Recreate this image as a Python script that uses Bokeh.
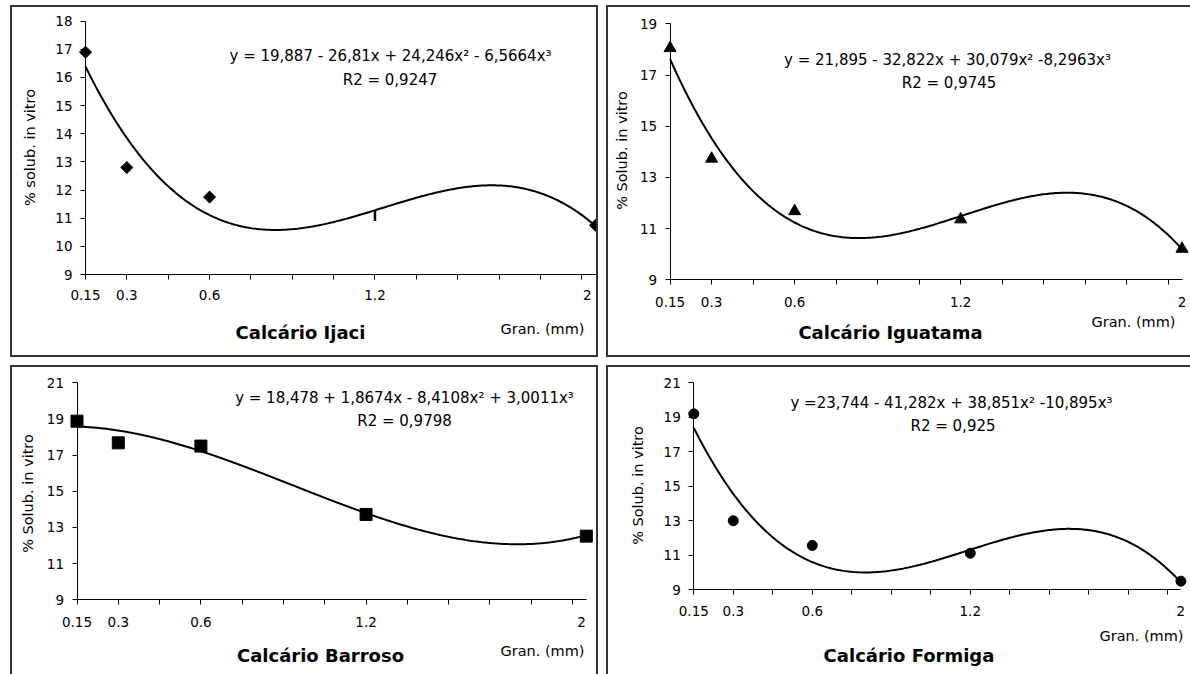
import numpy as np
from bokeh.plotting import figure
from bokeh.models import Range1d, FixedTicker, CustomJSTickFormatter, Label, Spacer, ColumnDataSource
from bokeh.layouts import row, column
from bokeh.embed import file_html
from bokeh.resources import INLINE

# ---------------- data ----------------
granulometry = [0.15, 0.3, 0.6, 1.2, 2.0]

ijaci = [16.9, 12.8, 11.75, 11.1, 10.75]
iguatama = [18.05, 13.73, 11.68, 11.36, 10.21]
barroso = [18.88, 17.68, 17.5, 13.72, 12.52]
formiga = [19.2, 13.0, 11.57, 11.12, 9.5]

coef_ijaci = [19.887, -26.81, 24.246, -6.5664]
coef_iguatama = [21.895, -32.822, 30.079, -8.2963]
coef_barroso = [18.478, 1.8674, -8.4108, 3.0011]
coef_formiga = [23.744, -41.282, 38.851, -10.895]

eq_ijaci = "y = 19,887 - 26,81x + 24,246x² - 6,5664x³"
eq_iguatama = "y = 21,895 - 32,822x + 30,079x² -8,2963x³"
eq_barroso = "y = 18,478 + 1,8674x - 8,4108x² + 3,0011x³"
eq_formiga = "y =23,744 - 41,282x + 38,851x² -10,895x³"

r2_texts = ["R2 = 0,9247", "R2 = 0,9745", "R2 = 0,9798", "R2 = 0,925"]
titles = ["Calcário Ijaci", "Calcário Iguatama", "Calcário Barroso", "Calcário Formiga"]
ylabels = ["% solub. in vitro", "% Solub. in vitro", "% Solub. in vitro", "% Solub. in vitro"]
xlabel = "Gran. (mm)"

x_minor_ticks = [0.15, 0.30, 0.45, 0.60, 0.75, 0.90, 1.05, 1.20, 1.35, 1.50, 1.65, 1.80, 1.95]
x_tick_labels = ["0.15", "0.3", "0.6", "1.2", "2"]

FONT = "DejaVu Sans"
LINE = "#333333"


def build(cfg):
    ox, oy = cfg["origin"]
    W, H = cfg["W"], cfg["H"]
    AX, SX = cfg["ax"], cfg["sx"]
    y0, y1 = cfg["yr"]
    YT, YB = cfg["yt"], cfg["yb"]
    SY = (YB - YT) / (y1 - y0)

    def dx(X):
        return 0.15 + (X - AX) / SX

    def dy(Y):
        return y0 + (YB - Y) / SY

    p = figure(width=W, height=H,
               x_range=Range1d(dx(ox), dx(ox + W)), y_range=Range1d(dy(oy + H), dy(oy)),
               output_backend="svg", toolbar_location=None, title=None,
               min_border=0, min_border_left=0, min_border_right=0, min_border_top=0, min_border_bottom=0,
               background_fill_color="white", border_fill_color="white", outline_line_color=None)
    p.xgrid.grid_line_color = None
    p.ygrid.grid_line_color = None

    xa = p.xaxis[0]
    label_ticks = [0.15, 0.3, 0.6, 1.2, cfg["last_tick"]]
    xa.fixed_location = y0
    xa.bounds = (0.15, cfg["xend"])
    xa.ticker = FixedTicker(ticks=label_ticks, minor_ticks=x_minor_ticks)
    xa.formatter = CustomJSTickFormatter(args=dict(vals=label_ticks, labs=x_tick_labels), code="""
        for (let i = 0; i < vals.length; i++) {
            if (Math.abs(vals[i] - tick) < 1e-6) { return labs[i]; }
        }
        return "";
    """)
    xa.major_tick_out = 0
    xa.major_tick_in = 0
    xa.minor_tick_out = 5
    xa.minor_tick_in = 0
    xa.minor_tick_line_color = "black"
    xa.major_label_standoff = cfg["xstand"]
    xa.axis_line_color = "black"
    xa.major_label_text_font = FONT
    xa.major_label_text_font_size = "13.5px"
    xa.major_label_text_color = "black"

    ya = p.yaxis[0]
    ya.fixed_location = 0.15
    ya.bounds = (y0, y1)
    ya.ticker = FixedTicker(ticks=list(range(y0, y1 + 1, cfg["ystep"])), minor_ticks=[])
    ya.major_tick_out = 5
    ya.major_tick_in = 0
    ya.minor_tick_out = 0
    ya.minor_tick_in = 0
    ya.major_tick_line_color = "black"
    ya.major_label_standoff = 8
    ya.axis_line_color = "black"
    ya.major_label_text_font = FONT
    ya.major_label_text_font_size = "13.5px"
    ya.major_label_text_color = "black"

    # trendline from the displayed polynomial coefficients
    xs = np.linspace(0.15, 2.0, 300)
    ys = np.polyval(cfg["coef"][::-1], xs)
    p.line(xs, ys, line_color="black", line_width=2)

    yvals = cfg["y"]
    special = cfg.get("special")
    idx = [i for i in range(len(granulometry)) if i != special]
    src = ColumnDataSource(dict(x=[granulometry[i] for i in idx], y=[yvals[i] for i in idx]))
    m = cfg["marker"]
    p.scatter("x", "y", source=src, marker=m["type"], size=m["size"], angle=m.get("angle", 0),
              fill_color="black", line_color="black", line_width=1)
    if special is not None:
        p.scatter([granulometry[special]], [yvals[special]], marker="dash", size=11,
                  angle=np.pi / 2, line_color="black", line_width=2.5)

    t = cfg["text"]

    def lab(text, pos, size, align="center", bold=False, angle=0.0):
        p.add_layout(Label(x=dx(pos[0]), y=dy(pos[1]), text=text, text_align=align,
                           text_baseline="middle", text_font=FONT, text_font_size=size,
                           text_font_style="bold" if bold else "normal", angle=angle,
                           text_color="black"))

    lab(cfg["eq"], t["eq"], "15px")
    lab(cfg["r2"], t["r2"], "15px")
    lab(cfg["title"], t["title"], "18px", bold=True)
    lab(xlabel, t["gran"], "14.5px", align="right")
    lab(cfg["ylabel"], t["ylab"], "14.5px", angle=np.pi / 2)
    return p


def hline(w):
    return Spacer(width=w, height=2, styles={"background-color": LINE})


def vline(h):
    return Spacer(width=2, height=h, styles={"background-color": LINE})


def boxed(p, top=True, bottom=True, left=True, right=True):
    W, H = p.width, p.height
    inner = []
    if left:
        inner.append(vline(H))
    inner.append(p)
    if right:
        inner.append(vline(H))
    tw = W + (2 if left else 0) + (2 if right else 0)
    parts = []
    if top:
        parts.append(hline(tw))
    parts.append(row(*inner))
    if bottom:
        parts.append(hline(tw))
    return column(*parts)


# absolute page geometry (page origin at 0,0)
cfgs = [
    dict(origin=(12, 7), W=584, H=348, ax=85, sx=275.7, yt=20.7, yb=274, yr=(9, 18), ystep=1,
         xend=2.01, last_tick=1.97, xstand=10,
         coef=coef_ijaci, y=ijaci, special=3,
         marker=dict(type="square", size=8.5, angle=np.pi / 4),
         eq=eq_ijaci, r2=r2_texts[0], title=titles[0], ylabel=ylabels[0],
         text=dict(eq=(390, 55), r2=(389.5, 79), title=(300, 332), gran=(584, 328), ylab=(29, 147))),
    dict(origin=(608, 7), W=582, H=348, ax=669.6, sx=276.7, yt=23.3, yb=279.3, yr=(9, 19), ystep=2,
         xend=2.003, last_tick=2.0, xstand=12,
         coef=coef_iguatama, y=iguatama,
         marker=dict(type="triangle", size=12),
         eq=eq_iguatama, r2=r2_texts[1], title=titles[1], ylabel=ylabels[1],
         text=dict(eq=(947, 59), r2=(948.5, 82), title=(890, 332), gran=(1175, 321), ylab=(621, 150))),
    dict(origin=(12, 367), W=584, H=307, ax=76.5, sx=275.3, yt=382.3, yb=599.3, yr=(9, 21), ystep=2,
         xend=2.0, last_tick=1.983, xstand=12,
         coef=coef_barroso, y=barroso,
         marker=dict(type="square", size=12),
         eq=eq_barroso, r2=r2_texts[2], title=titles[2], ylabel=ylabels[2],
         text=dict(eq=(404, 397), r2=(404, 420), title=(320, 655), gran=(584, 650), ylab=(27, 493))),
    dict(origin=(608, 367), W=582, H=307, ax=693.3, sx=263.3, yt=382.3, yb=589.3, yr=(9, 21), ystep=2,
         xend=2.0, last_tick=2.0, xstand=11,
         coef=coef_formiga, y=formiga,
         marker=dict(type="circle", size=10),
         eq=eq_formiga, r2=r2_texts[3], title=titles[3], ylabel=ylabels[3],
         text=dict(eq=(951, 402), r2=(952.5, 425), title=(908.5, 655), gran=(1183, 635), ylab=(637.6, 485))),
]

p1, p2, p3, p4 = [build(c) for c in cfgs]

b1 = boxed(p1)
b2 = boxed(p2, right=False)
b3 = boxed(p3, bottom=False)
b4 = boxed(p4, right=False, bottom=False)

top = row(Spacer(width=10, height=352), b1, Spacer(width=8, height=352), b2)
bot = row(Spacer(width=10, height=309), b3, Spacer(width=8, height=309), b4)
layout = column(Spacer(width=10, height=5), top, Spacer(width=10, height=8), bot)

open("out.html", "w").write(file_html(layout, INLINE))
